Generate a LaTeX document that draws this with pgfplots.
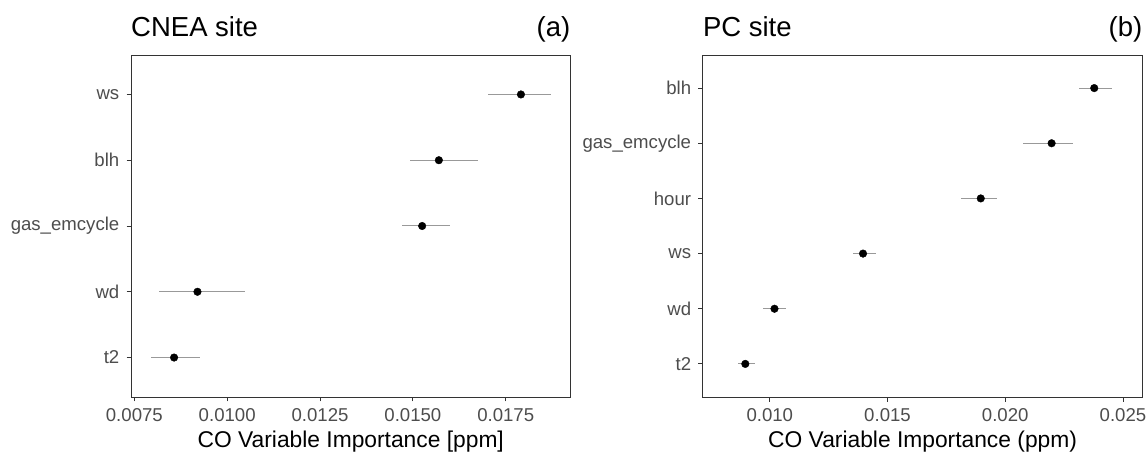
\documentclass[border=0pt]{standalone}
\usepackage{pgfplots}
\usepackage{pgfplotstable}
\pgfplotsset{compat=1.18}
\usepackage{fontspec}
\setmainfont{Liberation Sans}
\definecolor{ticktext}{HTML}{4D4D4D}
\definecolor{frame}{HTML}{333333}
\definecolor{errgray}{HTML}{999999}

\pgfplotstableread{
y x em ep
1 0.00857 0.00063 0.00070
2 0.00920 0.00103 0.00127
3 0.01525 0.00055 0.00076
4 0.01570 0.00077 0.00105
5 0.01791 0.00088 0.00082
}\cnea

\pgfplotstableread{
y x em ep
1 0.00896 0.00031 0.00041
2 0.01020 0.00050 0.00050
3 0.01396 0.00043 0.00055
4 0.01896 0.00084 0.00071
5 0.02197 0.00121 0.00092
6 0.02378 0.00063 0.00074
}\pc

\pgfplotsset{
  myaxis/.style={
    scale only axis,
    anchor=south west,
    height=342pt,
    axis line style={draw=frame, line width=0.9pt},
    tick style={draw=frame, line width=0.9pt},
    tick align=outside,
    major tick length=4.5pt,
    xtick pos=bottom, ytick pos=left,
    scaled ticks=false,
    /pgf/number format/assume math mode=true,
    tick label style={font=\fontsize{18.6}{21}\selectfont, text=ticktext},
    xticklabel style={anchor=base, yshift=-20.5pt},
    yticklabel style={inner sep=0pt, anchor=east, xshift=-7pt},
    xlabel style={font=\fontsize{22.8}{25}\selectfont, at={(axis description cs:0.5,0)}, anchor=base, yshift=-50.5pt},
    axis background/.style={fill=white},
  }
}

\begin{document}
\begin{tikzpicture}
\useasboundingbox (0,0) rectangle (1148pt,452pt);

\begin{axis}[myaxis,
  at={(131pt,55pt)}, width=439.5pt,
  xmin=0.00741, xmax=0.019245,
  ymin=0.4, ymax=5.6,
  xtick={0.0075,0.0100,0.0125,0.0150,0.0175},
  xticklabels={0.0075,0.0100,0.0125,0.0150,0.0175},
  ytick={1,2,3,4,5},
  yticklabels={t2,wd,gas\_emcycle,blh,ws},
  xlabel={CO Variable Importance [ppm]},
]
\addplot[only marks, mark=none,
  error bars/.cd, x dir=both, x explicit, error mark=none,
  error bar style={draw=errgray, line width=1pt}]
  table[x=x, y=y, x error minus=em, x error plus=ep]{\cnea};
\addplot[only marks, mark=*, mark size=3.8pt, black] table[x=x, y=y]{\cnea};
\end{axis}

\begin{axis}[myaxis,
  at={(702.8pt,55pt)}, width=439.6pt,
  xmin=0.007155, xmax=0.025826,
  ymin=0.4, ymax=6.6,
  xtick={0.010,0.015,0.020,0.025},
  xticklabels={0.010,0.015,0.020,0.025},
  ytick={1,2,3,4,5,6},
  yticklabels={t2,wd,ws,hour,gas\_emcycle,blh},
  xlabel={CO Variable Importance (ppm)},
]
\addplot[only marks, mark=none,
  error bars/.cd, x dir=both, x explicit, error mark=none,
  error bar style={draw=errgray, line width=1pt}]
  table[x=x, y=y, x error minus=em, x error plus=ep]{\pc};
\addplot[only marks, mark=*, mark size=3.8pt, black] table[x=x, y=y]{\pc};
\end{axis}

\node[anchor=base west, inner sep=0pt, font=\fontsize{27.5}{30}\selectfont] at (131pt,415pt) {CNEA site};
\node[anchor=base east, inner sep=0pt, font=\fontsize{27.5}{30}\selectfont] at (570.5pt,415pt) {(a)};
\node[anchor=base west, inner sep=0pt, font=\fontsize{27.5}{30}\selectfont] at (702.8pt,415pt) {PC site};
\node[anchor=base east, inner sep=0pt, font=\fontsize{27.5}{30}\selectfont] at (1142.4pt,415pt) {(b)};
\end{tikzpicture}
\end{document}
